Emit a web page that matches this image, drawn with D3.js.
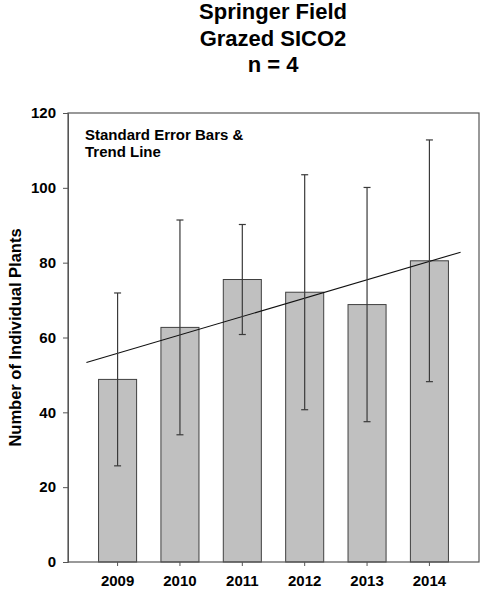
<!DOCTYPE html>
<html>
<head>
<meta charset="utf-8">
<script src="https://cdn.jsdelivr.net/npm/d3@7"></script>
<style>
  html, body { margin: 0; padding: 0; background: #fff; }
  svg { display: block; }
  text { font-family: "Liberation Sans", Arial, sans-serif; font-weight: bold; fill: #000; }
</style>
</head>
<body>
<svg id="chart" width="480" height="590"></svg>
<script>
// ---- data ----
const years = ["2009", "2010", "2011", "2012", "2013", "2014"];
const means = [48.8, 62.7, 75.5, 72.1, 68.8, 80.5];
const stdErrors = [23.1, 28.7, 14.7, 31.4, 31.3, 32.3];
const yTicks = [0, 20, 40, 60, 80, 100, 120];
const trendPositions = [-0.5, 5.5];   // in category index units
const trendValues = [53.3, 82.8];
const titleLines = ["Springer Field", "Grazed SICO2", "n = 4"];
const noteLines = ["Standard Error Bars &", "Trend Line"];
const yTitle = "Number of Individual Plants";

// ---- layout ----
const svg = d3.select("#chart");
const pLeft = 68, pRight = 479, pTop = 113, pBottom = 562;

const x = d3.scaleBand().domain(years).range([pLeft, pRight])
  .paddingInner(0.39).paddingOuter(0.49);
const y = d3.scaleLinear().domain([0, 120]).range([pBottom, pTop]);
const step = x.step();
const xCenter = i => x(years[0]) + x.bandwidth() / 2 + i * step;

const stroke = "#3a3a3a";

// title
svg.append("g").selectAll("text").data(titleLines).join("text")
  .attr("x", 273).attr("y", (d, i) => 19 + i * 26.5)
  .attr("text-anchor", "middle").style("font-size", "22px")
  .text(d => d);

// bars
svg.append("g").selectAll("rect").data(means).join("rect")
  .attr("x", (d, i) => x(years[i]))
  .attr("y", d => y(d))
  .attr("width", x.bandwidth())
  .attr("height", d => y(0) - y(d))
  .attr("fill", "#c0c0c0")
  .attr("stroke", "#404040").attr("stroke-width", 1);

// trend line
svg.append("line")
  .attr("x1", xCenter(trendPositions[0])).attr("y1", y(trendValues[0]))
  .attr("x2", xCenter(trendPositions[1])).attr("y2", y(trendValues[1]))
  .attr("stroke", "#111").attr("stroke-width", 1.1);

// error bars
const eb = svg.append("g").attr("stroke", stroke).attr("stroke-width", 1.2);
means.forEach((m, i) => {
  const cx = x(years[i]) + x.bandwidth() / 2;
  const lo = y(m - stdErrors[i]), hi = y(m + stdErrors[i]);
  eb.append("line").attr("x1", cx).attr("x2", cx).attr("y1", lo).attr("y2", hi);
  eb.append("line").attr("x1", cx - 3.5).attr("x2", cx + 3.5).attr("y1", lo).attr("y2", lo);
  eb.append("line").attr("x1", cx - 3.5).attr("x2", cx + 3.5).attr("y1", hi).attr("y2", hi);
});

// frame
svg.append("rect").attr("x", pLeft).attr("y", pTop)
  .attr("width", pRight - pLeft).attr("height", pBottom - pTop)
  .attr("fill", "none").attr("stroke", "#555").attr("stroke-width", 1.2);

// y axis
const yAxis = svg.append("g").attr("transform", `translate(${pLeft},0)`)
  .call(d3.axisLeft(y).tickValues(yTicks).tickSize(5).tickPadding(7).tickFormat(d3.format("d")));
yAxis.select(".domain").attr("stroke", "#555");
yAxis.selectAll(".tick line").attr("stroke", "#555");
yAxis.selectAll("text").style("font-size", "15px").style("font-family", "'Liberation Sans', Arial, sans-serif").attr("fill", "#000");

// x axis
const xAxis = svg.append("g").attr("transform", `translate(0,${pBottom})`)
  .call(d3.axisBottom(x).tickSize(4).tickPadding(9));
xAxis.select(".domain").remove();
xAxis.selectAll(".tick line").attr("stroke", "#555");
xAxis.selectAll("text").style("font-size", "15px").style("font-family", "'Liberation Sans', Arial, sans-serif").attr("fill", "#000");

// y axis title
svg.append("text")
  .attr("transform", `translate(21,${(pTop + pBottom) / 2}) rotate(-90)`)
  .attr("text-anchor", "middle").style("font-size", "16.5px")
  .text(yTitle);

// annotation
svg.append("g").selectAll("text").data(noteLines).join("text")
  .attr("x", 85).attr("y", (d, i) => 140 + i * 17)
  .style("font-size", "15px")
  .text(d => d);
</script>
</body>
</html>
